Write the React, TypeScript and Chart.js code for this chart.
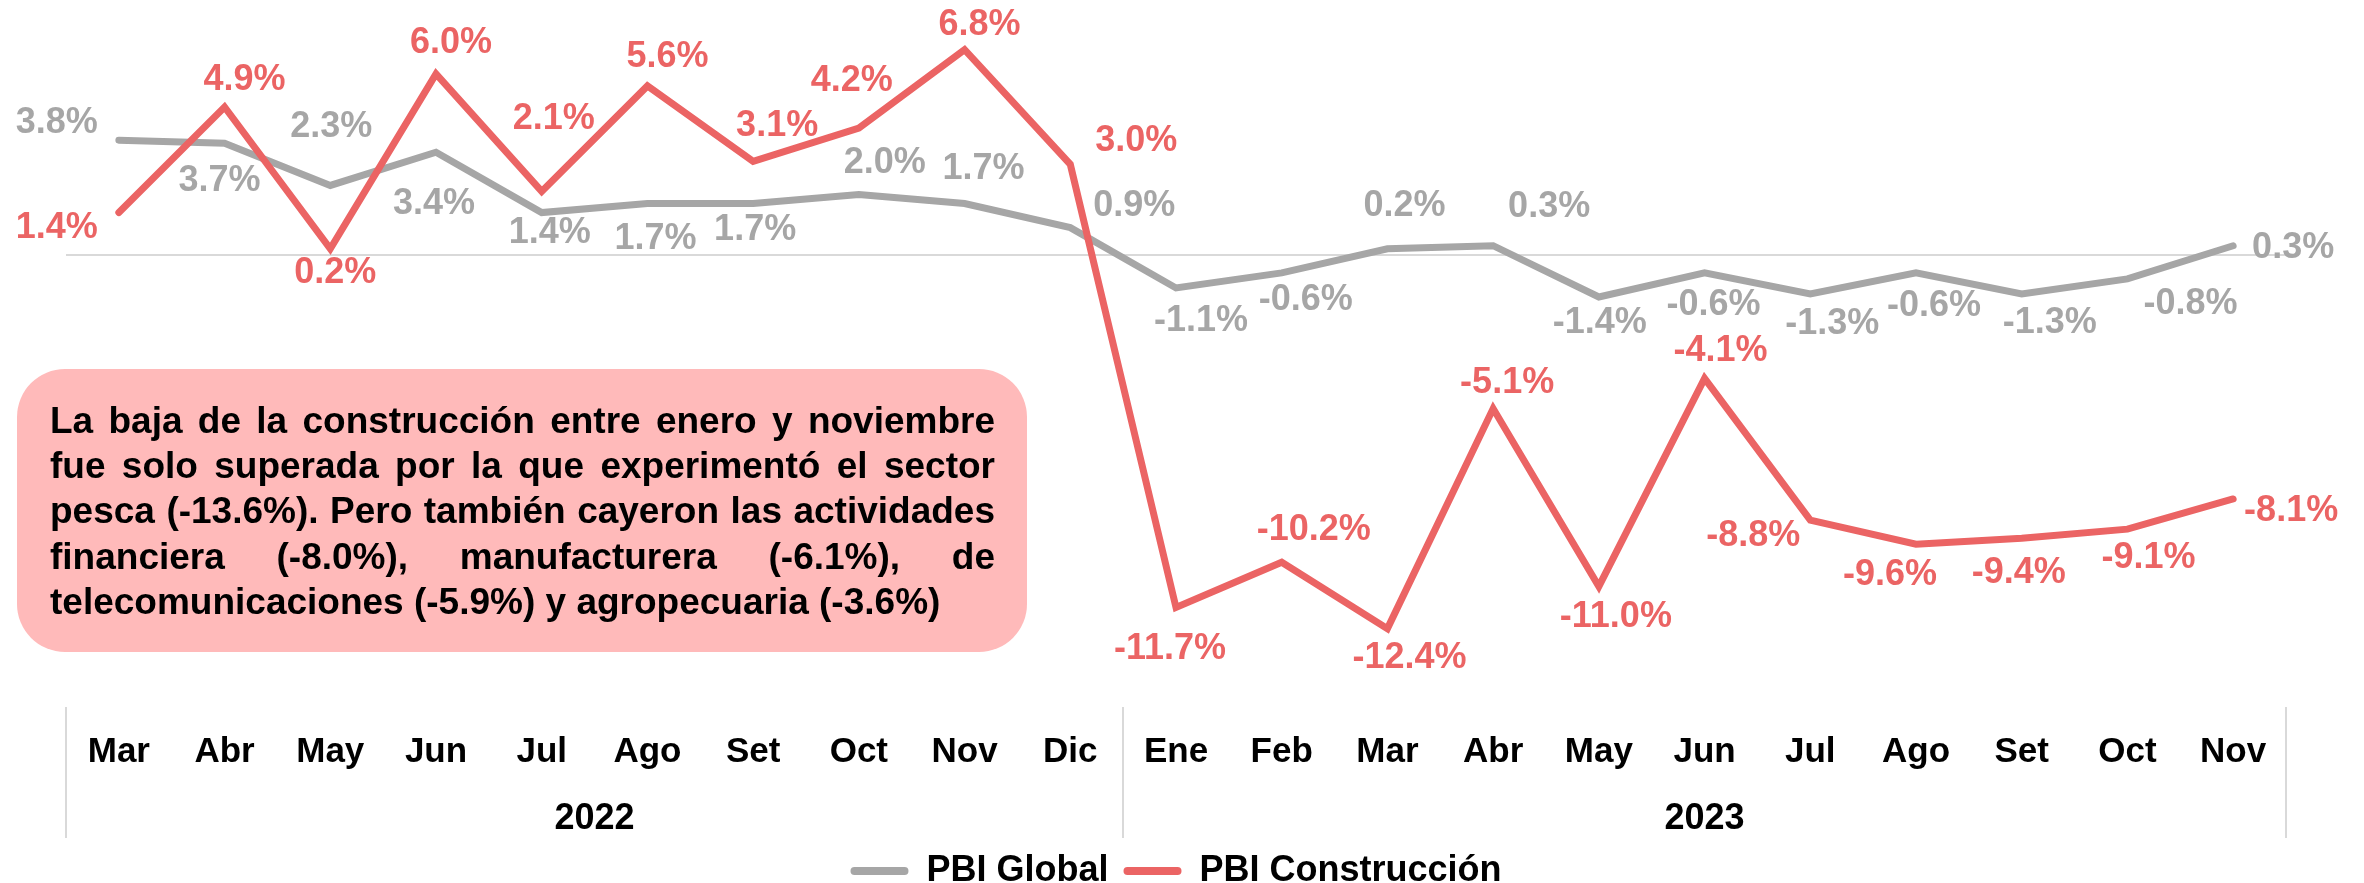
import React, { useEffect, useRef } from 'react';
import { Chart, registerables } from 'chart.js';

Chart.register(...registerables);

// ---------- data ----------
const months = ['Mar', 'Abr', 'May', 'Jun', 'Jul', 'Ago', 'Set', 'Oct', 'Nov', 'Dic', 'Ene', 'Feb', 'Mar', 'Abr', 'May', 'Jun', 'Jul', 'Ago', 'Set', 'Oct', 'Nov'];
const yearLabels = ['2022', '2023'];
const yearSpans = [10, 11];

const pbiGlobal = [3.8, 3.7, 2.3, 3.4, 1.4, 1.7, 1.7, 2.0, 1.7, 0.9, -1.1, -0.6, 0.2, 0.3, -1.4, -0.6, -1.3, -0.6, -1.3, -0.8, 0.3];
const pbiConstruccion = [1.4, 4.9, 0.2, 6.0, 2.1, 5.6, 3.1, 4.2, 6.8, 3.0, -11.7, -10.2, -12.4, -5.1, -11.0, -4.1, -8.8, -9.6, -9.4, -9.1, -8.1];

const seriesNames = ['PBI Global', 'PBI Construcción'];

// label placement (offset from point, px)
const globalLabelOffsets = [
  [-62, -17], [-5, 38], [1, -58], [-2, 52], [8, 21], [8, 36], [2, 27], [26, -31], [19, -34], [64, -22],
  [25, 33], [24, 27], [17, -43], [56, -39], [1, 26], [9, 32], [22, 30], [18, 33], [28, 29], [63, 25], [60, 2],
];
const construccionLabelOffsets = [
  [-62, 16], [20, -27], [5, 24], [15, -31], [12, -72], [20, -29], [24, -35], [-7, -47], [15, -25], [66, -23],
  [-6, 42], [32, -32], [22, 29], [14, -25], [17, 31], [16, -27], [-57, 16], [-26, 31], [-3, 35], [21, 29], [58, 12],
];

const noteLines = [
  'La baja de la construcción entre enero y noviembre',
  'fue solo superada por la que experimentó el sector',
  'pesca (-13.6%). Pero también cayeron las actividades',
  'financiera (-8.0%), manufacturera (-6.1%), de',
  'telecomunicaciones (-5.9%) y agropecuaria (-3.6%)',
];

// ---------- style ----------
const GRAY = '#A6A6A6';
const RED = '#EB6464';
const FONT = '"Liberation Sans", Arial, Helvetica, sans-serif';

const yearBounds: number[] = [-0.5];
yearSpans.forEach((s) => yearBounds.push(yearBounds[yearBounds.length - 1] + s));
const yearCenters = yearSpans.map((s, i) => yearBounds[i] + s / 2);

const zeroLinePlugin = {
  id: 'zeroLine',
  beforeDatasetsDraw(chart: any) {
    const { ctx, chartArea, scales } = chart;
    const y = Math.round(scales.y.getPixelForValue(0));
    ctx.save();
    ctx.strokeStyle = '#D9D9D9';
    ctx.lineWidth = 2;
    ctx.beginPath();
    ctx.moveTo(chartArea.left, y);
    ctx.lineTo(chartArea.right, y);
    ctx.stroke();
    ctx.restore();
  },
};

const noteBoxPlugin = {
  id: 'noteBox',
  beforeDatasetsDraw(chart: any) {
    const { ctx } = chart;
    const box = { x: 17, y: 369, w: 1010, h: 283, r: 48 };
    const textLeft = 50;
    const textRight = 995;
    const baseline = 433;
    const lineGap = 45.2;
    ctx.save();
    ctx.fillStyle = '#FFBABA';
    ctx.beginPath();
    ctx.roundRect(box.x, box.y, box.w, box.h, box.r);
    ctx.fill();
    ctx.fillStyle = '#000000';
    ctx.font = `bold 37px ${FONT}`;
    ctx.textBaseline = 'alphabetic';
    ctx.textAlign = 'left';
    noteLines.forEach((line, i) => {
      const by = baseline + i * lineGap;
      if (i === noteLines.length - 1) {
        ctx.fillText(line, textLeft, by);
        return;
      }
      const words = line.split(' ');
      const widths = words.map((w) => ctx.measureText(w).width);
      const total = widths.reduce((a, b) => a + b, 0);
      const gap = (textRight - textLeft - total) / (words.length - 1);
      let cx = textLeft;
      words.forEach((w, k) => {
        ctx.fillText(w, cx, by);
        cx += widths[k] + gap;
      });
    });
    ctx.restore();
  },
};

const pointLabelPlugin = {
  id: 'pointLabels',
  afterDatasetsDraw(chart: any) {
    const { ctx } = chart;
    const offsets = [globalLabelOffsets, construccionLabelOffsets];
    ctx.save();
    ctx.font = `bold 36px ${FONT}`;
    ctx.textAlign = 'center';
    ctx.textBaseline = 'middle';
    chart.data.datasets.forEach((ds: any, di: number) => {
      const meta = chart.getDatasetMeta(di);
      ctx.fillStyle = ds.borderColor;
      meta.data.forEach((pt: any, i: number) => {
        const v = ds.data[i] as number;
        const [dx, dy] = offsets[di][i];
        ctx.fillText(`${v.toFixed(1)}%`, pt.x + dx, pt.y + dy);
      });
    });
    ctx.restore();
  },
};

const groupDividerPlugin = {
  id: 'groupDividers',
  afterDraw(chart: any) {
    const { ctx, chartArea, scales } = chart;
    const bottom = scales.x2.bottom;
    ctx.save();
    ctx.strokeStyle = '#D9D9D9';
    ctx.lineWidth = 2;
    yearBounds.forEach((b) => {
      const px = Math.round(scales.x.getPixelForValue(b));
      ctx.beginPath();
      ctx.moveTo(px, chartArea.bottom + 3);
      ctx.lineTo(px, bottom);
      ctx.stroke();
    });
    ctx.restore();
  },
};

export default function App() {
  const canvasRef = useRef<HTMLCanvasElement | null>(null);

  useEffect(() => {
    if (!canvasRef.current) return;
    Chart.defaults.font.family = FONT;
    const chart = new Chart(canvasRef.current, {
      type: 'line',
      data: {
        labels: months,
        datasets: [
          {
            label: seriesNames[0],
            data: pbiGlobal,
            borderColor: GRAY,
            backgroundColor: GRAY,
            borderWidth: 7,
            pointRadius: 0,
            pointHoverRadius: 0,
            tension: 0,
            borderCapStyle: 'round',
            borderJoinStyle: 'miter',
            fill: false,
            order: 1,
          },
          {
            label: seriesNames[1],
            data: pbiConstruccion,
            borderColor: RED,
            backgroundColor: RED,
            borderWidth: 7,
            pointRadius: 0,
            pointHoverRadius: 0,
            tension: 0,
            borderCapStyle: 'round',
            borderJoinStyle: 'miter',
            fill: false,
            order: 0,
          },
        ],
      },
      options: {
        animation: false,
        responsive: true,
        maintainAspectRatio: false,
        events: [],
        layout: { padding: { left: 66, right: 78, top: 0, bottom: 0 } },
        scales: {
          x: {
            type: 'category',
            position: 'bottom',
            offset: true,
            weight: 0,
            grid: { display: false, drawTicks: false },
            border: { display: false },
            ticks: {
              color: '#000000',
              font: { size: 35, weight: 'bold', family: FONT },
              padding: 27,
              maxRotation: 0,
              autoSkip: false,
            },
          },
          x2: {
            type: 'linear',
            position: 'bottom',
            weight: 1,
            min: yearBounds[0],
            max: yearBounds[yearBounds.length - 1],
            offset: false,
            grid: { display: false, drawTicks: false },
            border: { display: false },
            afterBuildTicks: (scale: any) => {
              scale.ticks = yearCenters.map((v) => ({ value: v }));
            },
            ticks: {
              color: '#000000',
              font: { size: 36, weight: 'bold', family: FONT },
              padding: -2.6,
              maxRotation: 0,
              autoSkip: false,
              callback: (_v: any, i: number) => yearLabels[i],
            },
          },
          y: {
            display: false,
            min: -14.9,
            max: 8.45,
          },
        },
        plugins: {
          tooltip: { enabled: false },
          legend: {
            display: true,
            position: 'bottom',
            labels: {
              color: '#000000',
              font: { size: 36, weight: 'bold', family: FONT },
              boxWidth: 58,
              boxHeight: 8,
              useBorderRadius: true,
              borderRadius: 4,
              padding: 15,
              sort: (a: any, b: any) => a.datasetIndex - b.datasetIndex,
              generateLabels: (c: any) =>
                (Chart.defaults.plugins.legend.labels.generateLabels as any)(c).map((l: any) => ({
                  ...l,
                  lineWidth: 0,
                  fillStyle: l.strokeStyle,
                })),
            },
          },
        },
      } as any,
      plugins: [zeroLinePlugin, noteBoxPlugin, pointLabelPlugin, groupDividerPlugin],
    });
    return () => chart.destroy();
  }, []);

  return (
    <div style={{ position: 'fixed', left: 0, top: 0, width: 2364, height: 883, overflow: 'hidden', background: '#ffffff' }}>
      <div style={{ position: 'relative', width: 2364, height: 899 }}>
        <canvas ref={canvasRef} />
      </div>
    </div>
  );
}
